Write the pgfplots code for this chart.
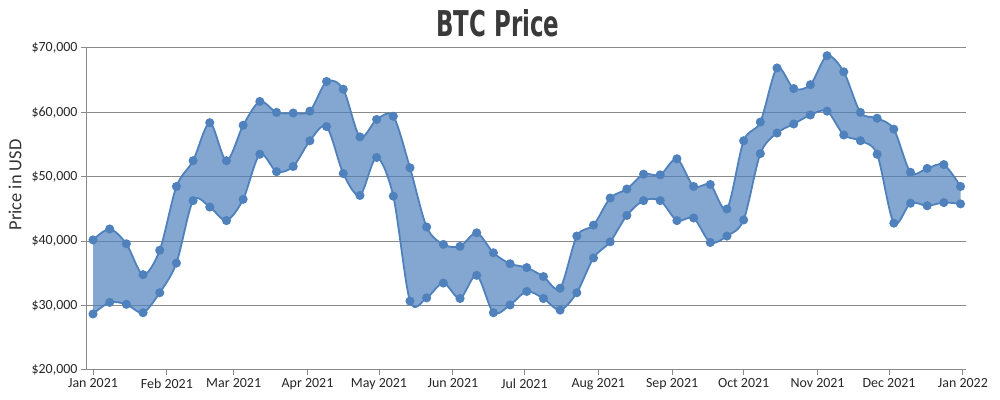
\documentclass[border=0pt]{standalone}
\usepackage{pgfplots}
\usepackage{pgfplotstable}
\usepackage{graphicx}
\pgfplotsset{compat=1.18}
\usepgfplotslibrary{fillbetween}
\usepackage{fontspec}
\setmainfont{Carlito}
\newfontfamily\titlefont{DejaVu Sans Condensed}
\definecolor{linec}{HTML}{4F81BC}
\definecolor{gridc}{HTML}{8A8A8A}
\definecolor{textc}{HTML}{333333}
\definecolor{titlec}{HTML}{3A3A3A}
\pgfplotstableread{
day hi lo
0 40200 28700
7 41900 30500
14 39600 30200
21 34800 28900
28 38600 32000
35 48500 36600
42 52500 46300
49 58400 45300
56 52500 43200
63 58000 46500
70 61700 53500
77 60000 50800
84 59900 51600
91 60200 55600
98 64800 57800
105 63600 50500
112 56200 47100
119 58900 53000
126 59400 47000
133 51400 30700
140 42200 31200
147 39500 33500
154 39200 31100
161 41300 34700
168 38200 28900
175 36500 30100
182 35900 32200
189 34500 31100
196 32700 29300
203 40800 32000
210 42500 37400
217 46700 39900
224 48100 44000
231 50400 46300
238 50300 46300
245 52800 43200
252 48500 43600
259 48800 39800
266 45000 40800
273 55600 43300
280 58500 53600
287 66900 56800
294 63700 58200
301 64300 59600
308 68800 60200
315 66300 56500
322 60000 55600
329 59100 53500
336 57400 42800
343 50700 45900
350 51300 45500
357 51900 46000
364 48500 45800
}\btcdata
\begin{document}
\begin{tikzpicture}
\node[anchor=base, text=titlec, inner sep=0pt] at (498bp,363bp) {\resizebox{123bp}{27bp}{\titlefont\bfseries BTC Price}};
\node[rotate=90, anchor=center, text=textc, inner sep=0pt] at (15bp,215bp) {\fontsize{18.5}{20}\selectfont Price in USD};
\begin{axis}[
  at={(86bp,30bp)}, anchor=south west,
  scale only axis, width=880bp, height=322bp,
  xmin=-2.94, xmax=366.3, ymin=20000, ymax=70000,
  axis x line*=bottom, axis y line*=left,
  axis line style={gridc, line width=1bp},
  tick align=outside, major tick length=5bp,
  tick style={gridc, line width=1bp},
  scaled y ticks=false,
  xtick={0,31,59,90,120,151,181,212,243,273,304,334,365},
  xticklabels={Jan 2021,Feb 2021,Mar 2021,Apr 2021,May 2021,Jun 2021,Jul 2021,Aug 2021,Sep 2021,Oct 2021,Nov 2021,Dec 2021,Jan 2022},
  ytick={20000,30000,40000,50000,60000,70000},
  yticklabels={{\$20,000},{\$30,000},{\$40,000},{\$50,000},{\$60,000},{\$70,000}},
  ticklabel style={font=\fontsize{14}{16}\selectfont, text=black!85},
  ymajorgrids, grid style={gridc, line width=1bp},
]
\addplot[draw=none, name path=hi, smooth, forget plot] table[x=day,y=hi]{\btcdata};
\addplot[draw=none, name path=lo, smooth, forget plot] table[x=day,y=lo]{\btcdata};
\addplot[fill=linec, fill opacity=0.7, draw=none] fill between[of=hi and lo];
\addplot[linec, line width=1.8bp, smooth, mark=*, mark size=3.6bp, mark options={fill=linec, draw=linec}] table[x=day,y=hi]{\btcdata};
\addplot[linec, line width=1.8bp, smooth, mark=*, mark size=3.6bp, mark options={fill=linec, draw=linec}] table[x=day,y=lo]{\btcdata};
\end{axis}
\path (0,0) rectangle (1000bp,400bp);
\end{tikzpicture}
\end{document}
